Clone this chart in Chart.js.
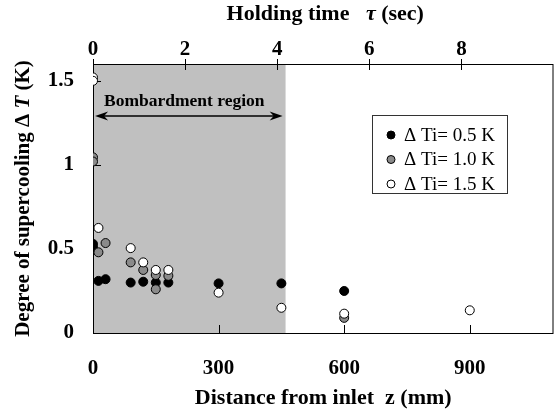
<!DOCTYPE html>
<html>
<head>
<meta charset="utf-8">
<script src="https://cdn.jsdelivr.net/npm/chart.js@4"></script>
<style>
  html, body { margin: 0; padding: 0; background: #fff; }
  #wrap { width: 559px; height: 416px; }
</style>
</head>
<body>
<div id="wrap"><canvas id="c" width="559" height="416"></canvas></div>
<script>
// Supercooling measured along the tube, three initial supercooling levels
const seriesLabels = ['\u0394 Ti= 0.5 K', '\u0394 Ti= 1.0 K', '\u0394 Ti= 1.5 K'];

const z05  = [0, 0, 13, 30, 90, 120, 150, 180, 300, 450, 600];
const dT05 = [0.53, 0.51, 0.31, 0.32, 0.30, 0.305, 0.30, 0.30, 0.295, 0.295, 0.25];

const z10  = [0, 0, 13, 30, 90, 120, 150, 150, 180, 600];
const dT10 = [1.045, 1.02, 0.48, 0.535, 0.42, 0.375, 0.345, 0.26, 0.34, 0.09];

const z15  = [0, 0, 13, 90, 120, 150, 180, 300, 450, 600, 900];
const dT15 = [1.52, 1.50, 0.625, 0.505, 0.42, 0.375, 0.375, 0.24, 0.15, 0.115, 0.135];

const zTicks   = [0, 300, 600, 900];   // mm
const tauTicks = [0, 2, 4, 6, 8];      // sec
const dTTicks  = [0, 0.5, 1, 1.5];     // K

const zMax = 1100, tauMax = 10, dTMax = 1.6;
const bombardmentEnd = 460;            // mm, end of the bombardment section
const regionLabel = 'Bombardment region';

const SERIF = '"Liberation Serif", "Times New Roman", serif';
const tickFont = { family: SERIF, size: 21, weight: 'bold' };

const pts = (xs, ys) => xs.map((x, i) => ({ x, y: ys[i] }));

function setTicks(values) {
  return scale => { scale.ticks = values.map(v => ({ value: v })); };
}
const plainLabel = v => String(v);

// Draw a line of text made of differently styled runs, centred on (x, y)
function drawRuns(ctx, runs, x, y, rot) {
  ctx.save();
  ctx.translate(x, y);
  ctx.rotate(rot || 0);
  let total = 0;
  runs.forEach(r => { ctx.font = r.font; r.w = ctx.measureText(r.text).width; total += r.w; });
  let cx = -total / 2;
  ctx.textAlign = 'left';
  ctx.textBaseline = 'middle';
  ctx.fillStyle = '#000';
  runs.forEach(r => { ctx.font = r.font; ctx.fillText(r.text, cx, 0); cx += r.w; });
  ctx.restore();
}

const B = s => 'bold ' + s + 'px ' + SERIF;
const BI = s => 'italic bold ' + s + 'px ' + SERIF;

// Shaded bombardment section, frame, inward ticks and the region arrow
const backdrop = {
  id: 'backdrop',
  beforeDatasetsDraw(chart) {
    const { ctx, chartArea: a, scales } = chart;
    const xs = scales.x, ts = scales.tau, ys = scales.y;
    ctx.save();
    // shaded region
    const rx = xs.getPixelForValue(bombardmentEnd);
    ctx.fillStyle = '#c0c0c0';
    ctx.fillRect(a.left, a.top, rx - a.left, a.bottom - a.top);

    // frame
    ctx.strokeStyle = '#000';
    ctx.lineWidth = 1;
    ctx.strokeRect(a.left + 0.5, a.top + 0.5, a.right - a.left - 1, a.bottom - a.top);

    // inward ticks
    ctx.beginPath();
    zTicks.forEach(v => {
      const px = Math.round(xs.getPixelForValue(v)) + 0.5;
      ctx.moveTo(px, a.bottom); ctx.lineTo(px, a.bottom - 8);
    });
    tauTicks.forEach(v => {
      const px = Math.round(ts.getPixelForValue(v)) + 0.5;
      ctx.moveTo(px, a.top - 5); ctx.lineTo(px, a.top + 6);
    });
    dTTicks.forEach(v => {
      const py = Math.round(ys.getPixelForValue(v)) + 0.5;
      ctx.moveTo(a.left, py); ctx.lineTo(a.left + 8, py);
    });
    ctx.stroke();

    // double-headed arrow across the region
    const ax1 = xs.getPixelForValue(5), ax2 = xs.getPixelForValue(453);
    const ay = ys.getPixelForValue(1.29);
    ctx.beginPath();
    ctx.moveTo(ax1 + 6, ay); ctx.lineTo(ax2 - 6, ay);
    ctx.lineWidth = 1.5;
    ctx.stroke();
    ctx.fillStyle = '#000';
    [[ax1, 1], [ax2, -1]].forEach(([tx, d]) => {
      ctx.beginPath();
      ctx.moveTo(tx, ay);
      ctx.lineTo(tx + d * 13, ay - 4.5);
      ctx.lineTo(tx + d * 9, ay);
      ctx.lineTo(tx + d * 13, ay + 4.5);
      ctx.closePath();
      ctx.fill();
    });
    drawRuns(ctx, [{ text: regionLabel, font: B(17.5) }],
      xs.getPixelForValue(218), ys.getPixelForValue(1.377));
    ctx.restore();
  }
};

// Axis titles and the boxed legend
const annotations = {
  id: 'annotations',
  afterDraw(chart) {
    const { ctx, chartArea: a } = chart;
    const cx = (a.left + a.right) / 2;
    const cy = (a.top + a.bottom) / 2;
    drawRuns(ctx, [{ text: 'Distance from inlet  z (mm)', font: B(22) }], cx, 398);
    drawRuns(ctx, [
      { text: 'Holding time   ', font: B(22) },
      { text: '\u03C4', font: BI(22) },
      { text: ' (sec)', font: B(22) }
    ], cx + 2, 14);
    drawRuns(ctx, [
      { text: 'Degree of supercooling \u0394 ', font: B(21) },
      { text: 'T', font: BI(21) },
      { text: ' (K)', font: B(21) }
    ], 24, cy, -Math.PI / 2);

    // legend
    ctx.save();
    const lx = 372, ly = 115, lw = 135, lh = 78;
    ctx.fillStyle = '#fff';
    ctx.fillRect(lx, ly, lw, lh);
    ctx.strokeStyle = '#333';
    ctx.lineWidth = 1;
    ctx.strokeRect(lx + 0.5, ly + 0.5, lw, lh);
    const rows = [135, 159.5, 184];
    chart.data.datasets.forEach((ds, i) => {
      ctx.beginPath();
      ctx.arc(391, rows[i], 4, 0, Math.PI * 2);
      ctx.fillStyle = ds.backgroundColor;
      ctx.fill();
      ctx.strokeStyle = '#000';
      ctx.lineWidth = 1;
      ctx.stroke();
      ctx.fillStyle = '#000';
      ctx.font = '19px ' + SERIF;
      ctx.textAlign = 'left';
      ctx.textBaseline = 'middle';
      ctx.fillText(ds.label, 404, rows[i] + 1);
    });
    ctx.restore();
  }
};

const pointStyle = (fill, order) => ({
  backgroundColor: fill,
  borderColor: '#000',
  borderWidth: 1,
  pointRadius: 4.5,
  pointHoverRadius: 4.5,
  order
});

new Chart(document.getElementById('c'), {
  type: 'scatter',
  data: {
    datasets: [
      { label: seriesLabels[0], data: pts(z05, dT05), ...pointStyle('#000000', 3) },
      { label: seriesLabels[1], data: pts(z10, dT10), ...pointStyle('#8a8a8a', 2) },
      { label: seriesLabels[2], data: pts(z15, dT15), ...pointStyle('#ffffff', 1) }
    ]
  },
  options: {
    responsive: false,
    animation: false,
    devicePixelRatio: 1,
    layout: { padding: { left: 0, right: 1, top: 0, bottom: 0 } },
    plugins: { legend: { display: false }, tooltip: { enabled: false } },
    scales: {
      x: {
        type: 'linear', position: 'bottom', min: 0, max: zMax,
        afterBuildTicks: setTicks(zTicks),
        afterFit: s => { s.height = 83; },
        grid: { display: false, drawTicks: false },
        border: { display: false },
        ticks: { font: tickFont, color: '#000', padding: 23, callback: plainLabel }
      },
      tau: {
        type: 'linear', position: 'top', min: 0, max: tauMax,
        afterBuildTicks: setTicks(tauTicks),
        afterFit: s => { s.height = 64; },
        grid: { display: false, drawTicks: false },
        border: { display: false },
        ticks: { font: tickFont, color: '#000', padding: 2, callback: plainLabel }
      },
      y: {
        type: 'linear', position: 'left', min: 0, max: dTMax,
        afterBuildTicks: setTicks(dTTicks),
        afterFit: s => { s.width = 93; },
        grid: { display: false, drawTicks: false },
        border: { display: false },
        ticks: { font: tickFont, color: '#000', padding: 19, callback: plainLabel }
      }
    }
  },
  plugins: [backdrop, annotations]
});
</script>
</body>
</html>
